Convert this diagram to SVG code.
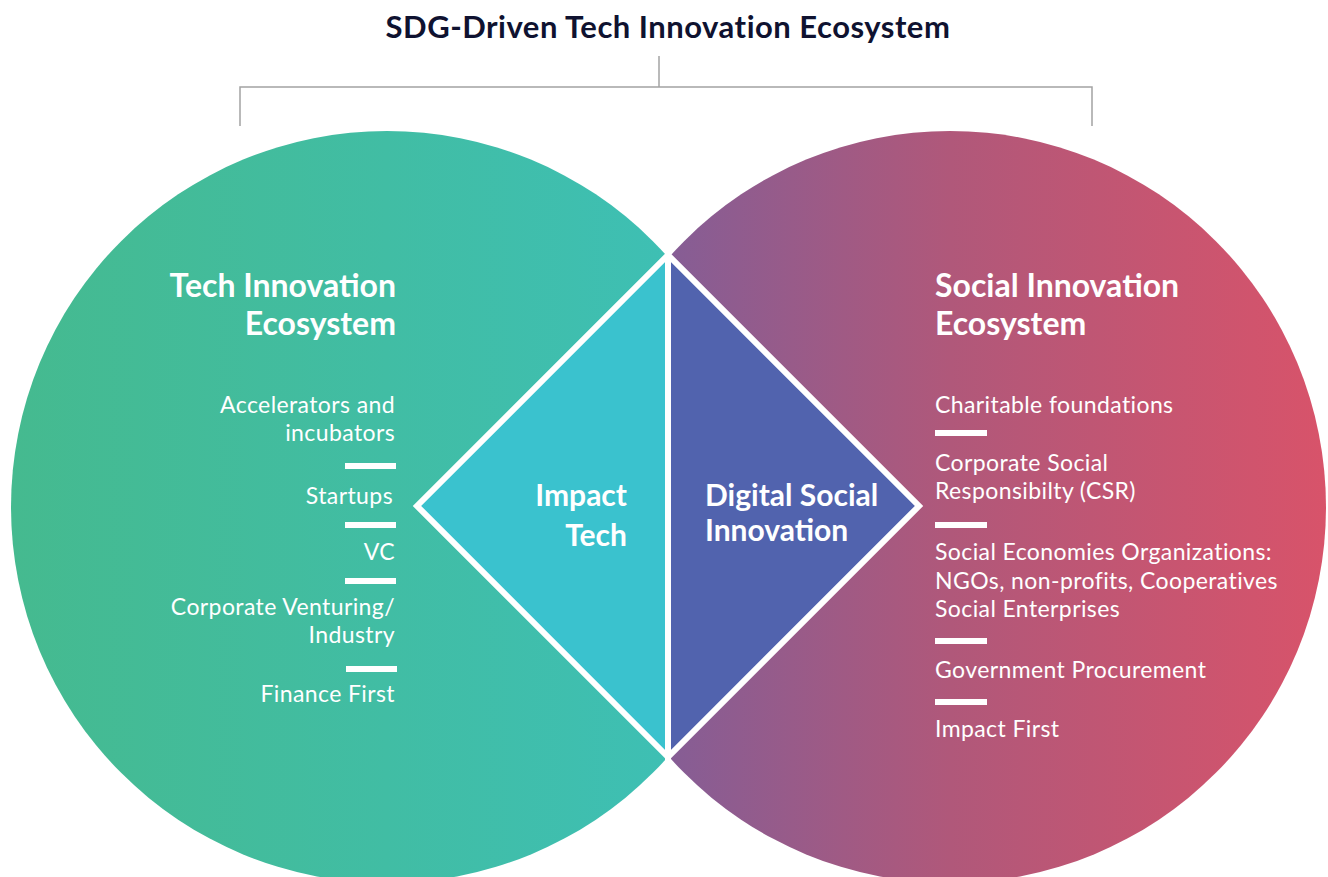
<svg xmlns="http://www.w3.org/2000/svg" width="1328" height="877" viewBox="0 0 1328 877">
<defs>
<linearGradient id="gLeft" gradientUnits="userSpaceOnUse" x1="11" y1="0" x2="763" y2="0">
<stop offset="0" stop-color="#45BA8F"/>
<stop offset="1" stop-color="#3DC0B9"/>
</linearGradient>
<linearGradient id="gRight" gradientUnits="userSpaceOnUse" x1="574" y1="0" x2="1326" y2="0">
<stop offset="0" stop-color="#775F9E"/>
<stop offset="0.5" stop-color="#B0587A"/>
<stop offset="1" stop-color="#D8536A"/>
</linearGradient>
<style>
.title{font-family:Lato,"Noto Sans",sans-serif;font-weight:700;font-size:31px;letter-spacing:0.5px;fill:#0F1230}
.head{font-family:Lato,"Noto Sans",sans-serif;font-weight:700;font-size:32px;fill:#FFFFFF}
.mid{font-family:Lato,"Noto Sans",sans-serif;font-weight:700;font-size:30px;fill:#FFFFFF}
.item{font-family:Lato,"Noto Sans",sans-serif;font-weight:400;font-size:23px;letter-spacing:0.4px;fill:#FFFFFF}
.r{text-anchor:end}
.bar{fill:#FFFFFF}
.conn{fill:none;stroke:#A3A3A3;stroke-width:1.5}
.sep{fill:none;stroke:#FFFFFF;stroke-width:6}
</style>
</defs>
<rect width="1328" height="877" fill="#FFFFFF"/>

<g id="title">
<text class="title" x="668" y="38" text-anchor="middle">SDG-Driven Tech Innovation Ecosystem</text>
</g>

<g id="connectors">
<path class="conn" d="M659 56 V87"/>
<path class="conn" d="M240 126 V87 H1092 V126"/>
</g>

<g id="tech-ecosystem">
<circle cx="387" cy="507" r="376" fill="url(#gLeft)"/>
</g>
<g id="social-ecosystem">
<circle cx="950" cy="507" r="376" fill="url(#gRight)"/>
</g>

<g id="impact-tech">
<polygon points="668,255 668,757 417,506" fill="#3AC2CE"/>
<text class="mid r" x="627" y="506">Impact</text>
<text class="mid r" x="627" y="546">Tech</text>
</g>
<g id="digital-social-innovation">
<polygon points="668,255 919,506 668,757" fill="#5163AE"/>
<text class="mid" x="705" y="506">Digital Social</text>
<text class="mid" x="705" y="541">Innovation</text>
</g>
<g id="separators">
<polygon class="sep" points="668,255 919,506 668,757 417,506"/>
<line class="sep" x1="668" y1="252" x2="668" y2="760"/>
</g>

<g id="tech-labels">
<text class="head r" x="396" y="297">Tech Innovation</text>
<text class="head r" x="396" y="335">Ecosystem</text>
<text class="item r" x="395" y="413">Accelerators and</text>
<text class="item r" x="395" y="441">incubators</text>
<rect class="bar" x="345" y="463" width="51" height="6"/>
<text class="item r" x="393" y="504">Startups</text>
<rect class="bar" x="345" y="522" width="51" height="6"/>
<text class="item r" x="395" y="560">VC</text>
<rect class="bar" x="345" y="578" width="51" height="6"/>
<text class="item r" x="395" y="615">Corporate Venturing/</text>
<text class="item r" x="395" y="643">Industry</text>
<rect class="bar" x="346" y="666" width="51" height="6"/>
<text class="item r" x="395" y="702">Finance First</text>
</g>

<g id="social-labels">
<text class="head" x="935" y="297">Social Innovation</text>
<text class="head" x="935" y="335">Ecosystem</text>
<text class="item" x="935" y="413">Charitable foundations</text>
<rect class="bar" x="935" y="430" width="52" height="6"/>
<text class="item" x="935" y="471">Corporate Social</text>
<text class="item" x="935" y="499">Responsibilty (CSR)</text>
<rect class="bar" x="935" y="522" width="52" height="6"/>
<text class="item" x="935" y="560">Social Economies Organizations:</text>
<text class="item" x="935" y="589">NGOs, non-profits, Cooperatives</text>
<text class="item" x="935" y="617">Social Enterprises</text>
<rect class="bar" x="935" y="638" width="52" height="6"/>
<text class="item" x="935" y="678">Government Procurement</text>
<rect class="bar" x="935" y="699" width="52" height="6"/>
<text class="item" x="935" y="737">Impact First</text>
</g>
</svg>
